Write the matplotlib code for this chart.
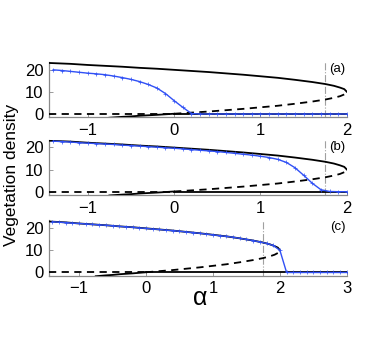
import numpy as np
import matplotlib
matplotlib.use("Agg")
import matplotlib.pyplot as plt

# ---------------- data ----------------
# stable upper branch (solid) and unstable middle branch (dashed)
alpha_up = [-1.45, -1.2, -1.0, -0.8, -0.6, -0.4, -0.2, 0.0, 0.2, 0.4, 0.6, 0.8,
            1.0, 1.2, 1.4, 1.6, 1.75, 1.85, 1.92, 1.97, 2.0]
veg_up = [23.0, 22.6, 22.1, 21.7, 21.3, 20.8, 20.4, 19.9, 19.4, 18.9, 18.3, 17.7,
          17.0, 16.3, 15.4, 14.4, 13.5, 12.7, 11.9, 11.2, 10.0]
alpha_mid = [0.0, 0.2, 0.4, 0.6, 0.8, 1.0, 1.2, 1.4, 1.6, 1.75, 1.85, 1.92, 1.97, 2.0]
veg_mid = [0.1, 0.6, 1.1, 1.7, 2.3, 3.0, 3.7, 4.6, 5.6, 6.5, 7.3, 8.0, 8.8, 10.0]
# negative (stable) part of middle branch
alpha_neg = [-0.75, -0.6, -0.5, -0.4, -0.3, -0.2, -0.1, 0.0]
veg_neg = [-1.7, -1.3, -1.1, -0.8, -0.6, -0.4, -0.15, 0.1]

# simulated (blue) results, alpha grid step 0.1
alpha_a = [-1.4, -1.3, -1.2, -1.1, -1.0, -0.9, -0.8, -0.7, -0.6, -0.5, -0.4, -0.3,
           -0.2, -0.1, 0.0, 0.1, 0.2, 0.3, 0.4, 0.5, 0.6, 0.7, 0.8, 0.9, 1.0, 1.1,
           1.2, 1.3, 1.4, 1.5, 1.6, 1.7, 1.8, 1.9, 2.0]
veg_a = [19.9, 19.6, 19.2, 18.8, 18.4, 18.1, 17.7, 17.1, 16.4, 15.6, 14.6, 13.3,
         11.7, 9.2, 6.0, 3.0, 0.2, 0, 0, 0, 0, 0, 0, 0, 0, 0,
         0, 0, 0, 0, 0, 0, 0, 0, 0]
alpha_b = alpha_a
veg_b = [22.8, 22.6, 22.4, 22.1, 21.9, 21.7, 21.5, 21.3, 21.0, 20.8, 20.6, 20.3,
         20.1, 19.8, 19.6, 19.3, 19.0, 18.7, 18.4, 18.1, 17.7, 17.3, 16.9, 16.5, 16.0, 15.4,
         14.6, 13.2, 10.8, 7.4, 3.8, 0.9, 0.1, 0, 0]
alpha_c = [-1.4, -1.3, -1.2, -1.1, -1.0, -0.9, -0.8, -0.7, -0.6, -0.5, -0.4, -0.3,
           -0.2, -0.1, 0.0, 0.1, 0.2, 0.3, 0.4, 0.5, 0.6, 0.7, 0.8, 0.9, 1.0, 1.1,
           1.2, 1.3, 1.4, 1.5, 1.6, 1.7, 1.8, 1.9, 2.0, 2.1, 2.2, 2.3, 2.4, 2.5,
           2.6, 2.7, 2.8, 2.9, 3.0]
veg_c = [22.9, 22.7, 22.5, 22.3, 22.1, 21.9, 21.7, 21.5, 21.3, 21.1, 20.8, 20.6,
         20.4, 20.1, 19.9, 19.6, 19.4, 19.1, 18.9, 18.6, 18.3, 18.0, 17.7, 17.3, 17.0, 16.6,
         16.3, 15.9, 15.4, 14.9, 14.4, 13.8, 13.1, 12.2, 10.0, 0, 0, 0, 0, 0,
         0, 0, 0, 0, 0]

alpha_vline = 1.75
panels = [
    dict(label="(a)", alpha=alpha_a, veg=veg_a, xmax=2.0, xticks=[-1, 0, 1, 2]),
    dict(label="(b)", alpha=alpha_b, veg=veg_b, xmax=2.0, xticks=[-1, 0, 1, 2]),
    dict(label="(c)", alpha=alpha_c, veg=veg_c, xmax=3.0, xticks=[-1, 0, 1, 2, 3]),
]
yticks = [0, 10, 20]

# ---------------- figure ----------------
plt.rcParams['font.family'] = ['Liberation Sans', 'DejaVu Sans']
fig = plt.figure(figsize=(3.82, 3.38), dpi=100)
left, width = 0.128, 0.780
bottoms = [0.653, 0.423, 0.184]
height = 0.164
xmin = -1.45
blue = '#3050f5'
spine_col = '#8a8a8a'

for p, b in zip(panels, bottoms):
    ax = fig.add_axes([left, b, width, height])
    ax.plot(alpha_up, veg_up, color='black', lw=1.3, zorder=3)
    ax.plot(alpha_mid, veg_mid, color='black', lw=1.3, ls=(0, (4, 3)), zorder=3)
    ax.plot(alpha_neg, veg_neg, color='black', lw=1.3, zorder=3)
    ax.plot([xmin, 0], [0, 0], color='black', lw=1.3, ls=(0, (4, 3)), zorder=3)
    ax.plot([0, p['xmax']], [0, 0], color='black', lw=1.3, zorder=3)
    ax.plot(p['alpha'], p['veg'], color=blue, lw=1.0, marker='+', ms=2.2, mew=0.5,
            zorder=4)
    ax.axvline(alpha_vline, color='#a0a0a0', lw=0.8, ls='-.', zorder=2)
    ax.set_xlim(xmin, p['xmax'])
    ax.set_ylim(-1.5, 23.5)
    ax.set_xticks(p['xticks'])
    ax.set_xticklabels([('\u2212%d' % -t) if t < 0 else '%d' % t for t in p['xticks']])
    ax.set_yticks(yticks)
    ax.tick_params(direction='in', length=3, width=0.6, colors=spine_col,
                   labelcolor='black', labelsize=12, pad=4)
    for s in ['top', 'right']:
        ax.spines[s].set_visible(False)
    for s in ['left', 'bottom']:
        ax.spines[s].set_color(spine_col)
        ax.spines[s].set_linewidth(0.9)
    ax.text(0.995, 0.98, p['label'], transform=ax.transAxes, ha='right', va='top',
            fontsize=9.5)

fig.text(0.031, 0.482, 'Vegetation density', rotation=90, ha='center', va='center',
         fontsize=12.5)
fig.text(0.524, 0.098, '\u03b1', ha='center', va='baseline', fontsize=18)

fig.savefig('out.png', dpi=100)
